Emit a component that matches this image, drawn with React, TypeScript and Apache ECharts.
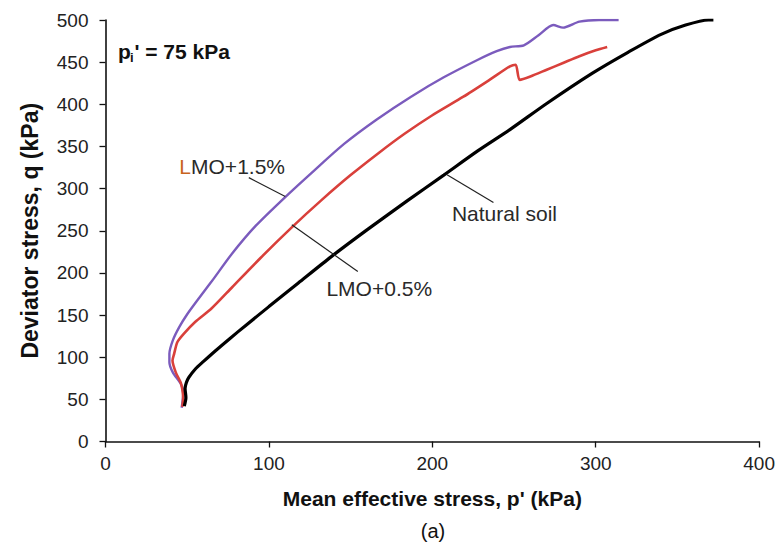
import React, { useEffect, useRef } from "react";
import * as echarts from "echarts";

// Natural soil
const pNatural = [48.2, 49.2, 48.7, 49.5, 51, 55, 60, 67.5, 76, 86, 100, 118, 138, 160, 185, 207, 228, 247.5, 270, 298, 320, 340, 355, 369, 372];
const qNatural = [42, 52, 63, 70, 76, 86, 95, 108, 122, 138, 160, 188, 219, 251, 286, 316, 345, 370, 401, 437, 462, 483, 494, 500, 500];

// LMO + 0.5%
const pLmo05 = [47, 47.5, 47, 46, 43, 41, 42, 44, 48, 55, 65, 77.5, 95, 114, 132, 150, 167, 183, 200, 219, 235, 247.5, 251, 253.5, 260, 270, 280, 290, 300, 307];
const qLmo05 = [41, 52, 62, 70, 82, 96, 104, 118, 128, 142, 158, 183, 218, 254, 286, 316, 342, 365, 387, 409, 429, 445, 447, 429, 433, 441, 449, 457, 464, 468];

// LMO + 1.5%
const pLmo15 = [46.6, 47.6, 46.2, 41.2, 39.1, 39.1, 41.2, 45.2, 50, 56, 65, 77.5, 92, 110, 128, 146, 166, 187, 207, 227, 239.4, 247.5, 256, 265, 274, 280, 290, 302, 314];
const qLmo15 = [40, 57, 68, 82, 94, 104, 120, 136, 151, 167, 190, 223, 256, 290, 322, 353, 382, 409, 432, 452, 463, 468, 470, 482, 494, 491, 498, 500, 500];

const seriesNames = ["Natural soil", "LMO+0.5%", "LMO+1.5%"];
const seriesColors = ["#000000", "#d9403b", "#7b5bbd"];
const seriesWidths = [3.2, 2.6, 2.4];

const FONT = "'Liberation Sans', Arial, sans-serif";

const zip = (xs: number[], ys: number[]) => xs.map((x, i) => [x, ys[i]]);

// annotation layout (data-space anchors)
const labels = [
  { rich: "{o|L}{n|MO+1.5%}", at: [45.2, 326], from: [87.7, 313], to: [110, 290.7] },
  { rich: "{n|LMO+0.5%}", at: [135.2, 182], from: [114, 257], to: [154.4, 201.7] },
  { rich: "{n|Natural soil}", at: [212, 270], from: [209, 316.5], to: [237.4, 283.6] },
];

export default function App() {
  const ref = useRef<HTMLDivElement>(null);
  useEffect(() => {
    if (!ref.current) return;
    const chart = echarts.init(ref.current, undefined, { renderer: "svg" });
    const datasets = [zip(pNatural, qNatural), zip(pLmo05, qLmo05), zip(pLmo15, qLmo15)];
    chart.setOption({
      animation: false,
      backgroundColor: "#ffffff",
      textStyle: { fontFamily: FONT },
      grid: { left: 105.5, right: 13, top: 20, bottom: 104.5, containLabel: false },
      xAxis: {
        type: "value",
        min: 0,
        max: 400,
        interval: 100,
        name: "Mean effective stress, p' (kPa)",
        nameLocation: "middle",
        nameGap: 46,
        nameTextStyle: { fontFamily: FONT, fontSize: 21, fontWeight: "bold", color: "#111" },
        axisLine: { show: true, lineStyle: { color: "#111", width: 1.6 } },
        axisTick: { show: true, inside: false, length: 6, lineStyle: { color: "#111", width: 1.3 } },
        axisLabel: { fontFamily: FONT, fontSize: 19, color: "#222", margin: 12 },
        splitLine: { show: false },
      },
      yAxis: {
        type: "value",
        min: 0,
        max: 500,
        interval: 50,
        name: "Deviator stress, q (kPa)",
        nameLocation: "middle",
        nameGap: 64,
        nameTextStyle: { fontFamily: FONT, fontSize: 23, fontWeight: "bold", color: "#111" },
        axisLine: { show: true, lineStyle: { color: "#111", width: 1.6 } },
        axisTick: { show: true, inside: false, length: 6, lineStyle: { color: "#111", width: 1.3 } },
        axisLabel: { fontFamily: FONT, fontSize: 19, color: "#222", margin: 17 },
        splitLine: { show: false },
      },
      series: datasets.map((d, i) => ({
        name: seriesNames[i],
        type: "line",
        data: d,
        showSymbol: false,
        symbol: "none",
        smooth: 0.25,
        lineStyle: { color: seriesColors[i], width: seriesWidths[i] },
        z: 3 - i,
      })),
    });

    const px = (v: number[]) => chart.convertToPixel({ gridIndex: 0 }, v) as number[];
    const graphics: any[] = [];
    labels.forEach((l) => {
      const a = px(l.at);
      const f = px(l.from);
      const t = px(l.to);
      graphics.push({
        type: "line",
        shape: { x1: f[0], y1: f[1], x2: t[0], y2: t[1] },
        style: { stroke: "#222", lineWidth: 1.2 },
        z: 10,
      });
      graphics.push({
        type: "text",
        x: a[0],
        y: a[1],
        style: {
          text: l.rich,
          align: "left",
          verticalAlign: "middle",
          rich: {
            o: { fontFamily: FONT, fontSize: 21, fill: "#c8641e" },
            n: { fontFamily: FONT, fontSize: 21, fill: "#2a2a2a" },
          },
        },
        z: 10,
      });
    });
    const pi = px([7.6, 462.6]);
    graphics.push({
      type: "group",
      x: pi[0],
      y: pi[1],
      z: 10,
      children: [
        { type: "text", x: 0, y: 0, style: { text: "p", font: `bold 21px ${FONT}`, fill: "#111", verticalAlign: "middle" } },
        { type: "text", x: 12, y: 6, style: { text: "i", font: `bold 13px ${FONT}`, fill: "#111", verticalAlign: "middle" } },
        { type: "text", x: 16.5, y: 0, style: { text: "' = 75 kPa", font: `bold 21px ${FONT}`, fill: "#111", verticalAlign: "middle" } },
      ],
    });
    graphics.push({
      type: "text",
      x: 433,
      y: 531,
      style: { text: "(a)", font: `20px ${FONT}`, fill: "#111", align: "center", verticalAlign: "middle" },
    });
    chart.setOption({ graphic: graphics });

    return () => chart.dispose();
  }, []);
  return (
    <div
      ref={ref}
      style={{ position: "fixed", left: 0, top: 0, width: 778, height: 546, background: "#fff" }}
    />
  );
}
